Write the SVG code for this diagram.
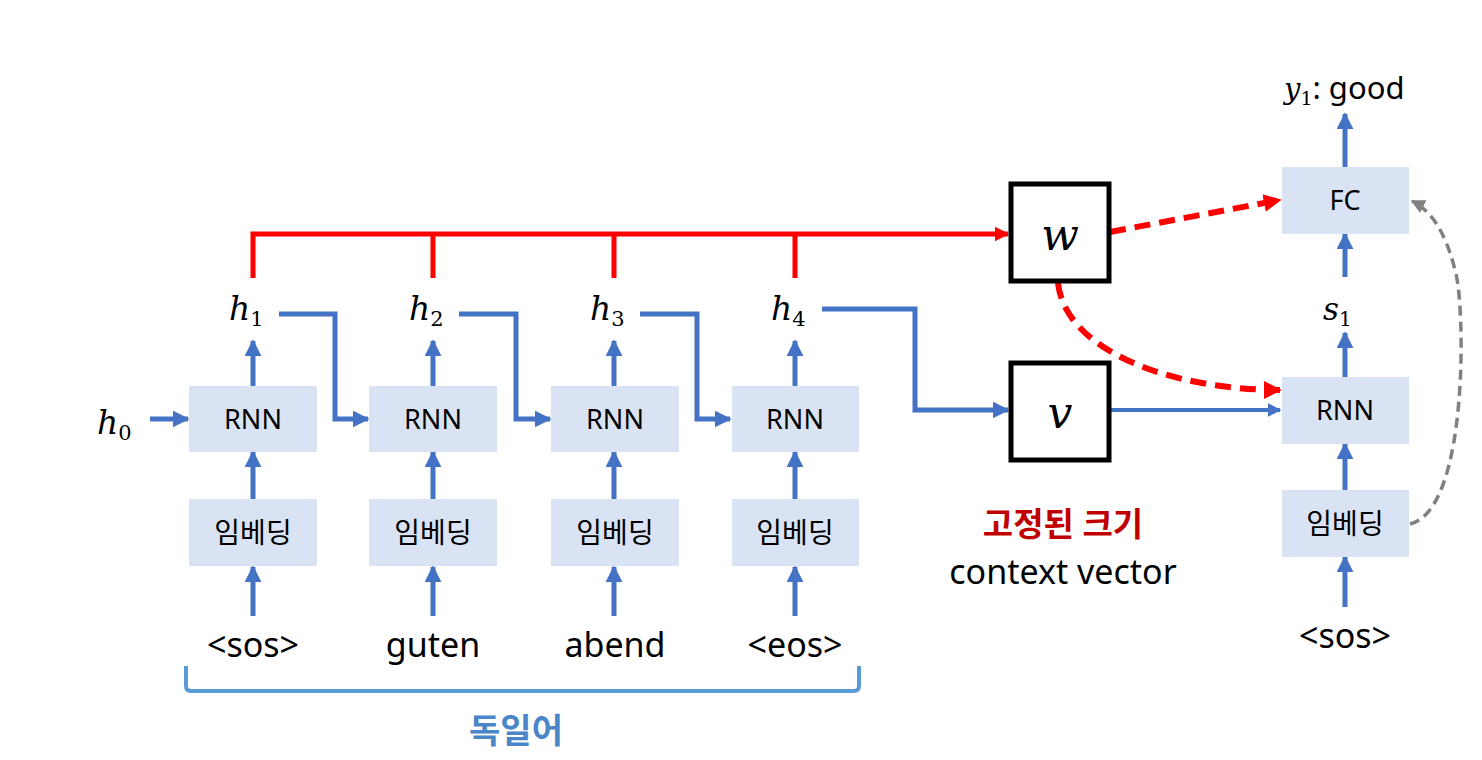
<svg xmlns="http://www.w3.org/2000/svg" width="1482" height="760" viewBox="0 0 1482 760">
<defs>
<style>
.box{fill:#DAE3F3}
.sq{fill:#fff;stroke:#000;stroke-width:5}
.bl{fill:none;stroke:#4472C4;stroke-width:5}
.red{fill:none;stroke:#FF0000;stroke-width:5}
.reddash{fill:none;stroke:#FF0000;stroke-width:6;stroke-dasharray:16 9}
.graydash{fill:none;stroke:#808080;stroke-width:3.5;stroke-dasharray:10 6}
.t{font-family:"Noto Sans","Noto Sans CJK KR",sans-serif;fill:#000;text-anchor:middle}
.m{font-family:"DejaVu Serif","Liberation Serif",serif;font-style:italic;fill:#000}
</style>
<marker id="ab" viewBox="0 0 10 10" refX="9" refY="5" markerWidth="3.4" markerHeight="3.4" orient="auto" markerUnits="strokeWidth"><path d="M0,0 L10,5 L0,10 Z" fill="#4472C4"/></marker>
<marker id="ar" viewBox="0 0 10 10" refX="9" refY="5" markerWidth="3" markerHeight="3" orient="auto" markerUnits="strokeWidth"><path d="M0,0 L10,5 L0,10 Z" fill="#FF0000"/></marker>
<marker id="ag" viewBox="0 0 10 10" refX="9" refY="5" markerWidth="4" markerHeight="4" orient="auto" markerUnits="strokeWidth"><path d="M0,0 L10,5 L0,10 Z" fill="#808080"/></marker>
</defs>

<g id="connectors">
<path class="red" d="M253,278 V234 H1008" marker-end="url(#ar)" style="stroke-dasharray:none"/>
<path class="red" d="M433,278 V234 M614,278 V234 M795,278 V234"/>
<path class="bl" d="M253,616 V567" marker-end="url(#ab)"/>
<path class="bl" d="M433,616 V567" marker-end="url(#ab)"/>
<path class="bl" d="M614,616 V567" marker-end="url(#ab)"/>
<path class="bl" d="M795,616 V567" marker-end="url(#ab)"/>
<path class="bl" d="M253,499 V452" marker-end="url(#ab)"/>
<path class="bl" d="M433,499 V452" marker-end="url(#ab)"/>
<path class="bl" d="M614,499 V452" marker-end="url(#ab)"/>
<path class="bl" d="M795,499 V452" marker-end="url(#ab)"/>
<path class="bl" d="M253,386 V341" marker-end="url(#ab)"/>
<path class="bl" d="M433,386 V341" marker-end="url(#ab)"/>
<path class="bl" d="M614,386 V341" marker-end="url(#ab)"/>
<path class="bl" d="M795,386 V341" marker-end="url(#ab)"/>
<path class="bl" d="M150,419 H188" marker-end="url(#ab)"/>
<path class="bl" d="M279,314 H335 V419 H368" marker-end="url(#ab)"/>
<path class="bl" d="M459,314 H516 V419 H550" marker-end="url(#ab)"/>
<path class="bl" d="M640,314 H697 V419 H730" marker-end="url(#ab)"/>
<path class="bl" d="M822,309 H915 V410 H1008" marker-end="url(#ab)"/>
<path class="bl" d="M1110,410 H1280" marker-end="url(#ab)" style="stroke-width:4"/>
<path class="reddash" d="M1110,232 L1280,200" marker-end="url(#ar)"/>
<path class="reddash" d="M1058,283 C1065,350 1170,390 1280,390" marker-end="url(#ar)"/>
<path class="bl" d="M1345,607 V557" marker-end="url(#ab)"/>
<path class="bl" d="M1345,490 V444" marker-end="url(#ab)"/>
<path class="bl" d="M1345,377 V333" marker-end="url(#ab)"/>
<path class="bl" d="M1345,277 V234" marker-end="url(#ab)"/>
<path class="bl" d="M1345,167 V114" marker-end="url(#ab)"/>
<path class="graydash" d="M1410,524 C1470,510 1465,300 1455,270 C1445,230 1430,210 1412,201" marker-end="url(#ag)"/>
<path d="M186,666 V686 Q186,691 191,691 H854 Q859,691 859,686 V666" fill="none" stroke="#5B9BD5" stroke-width="4"/>
</g>

<g id="enc-rnn1"><rect class="box" x="189" y="386" width="128" height="66"/><text class="t" x="253" y="429" font-size="27">RNN</text></g>
<g id="enc-rnn2"><rect class="box" x="369" y="386" width="128" height="66"/><text class="t" x="433" y="429" font-size="27">RNN</text></g>
<g id="enc-rnn3"><rect class="box" x="551" y="386" width="128" height="66"/><text class="t" x="615" y="429" font-size="27">RNN</text></g>
<g id="enc-rnn4"><rect class="box" x="732" y="386" width="127" height="66"/><text class="t" x="795" y="429" font-size="27">RNN</text></g>

<g id="enc-emb1"><rect class="box" x="189" y="499" width="128" height="67"/><text class="t" x="253" y="543" font-size="28">임베딩</text></g>
<g id="enc-emb2"><rect class="box" x="369" y="499" width="128" height="67"/><text class="t" x="433" y="543" font-size="28">임베딩</text></g>
<g id="enc-emb3"><rect class="box" x="551" y="499" width="128" height="67"/><text class="t" x="615" y="543" font-size="28">임베딩</text></g>
<g id="enc-emb4"><rect class="box" x="732" y="499" width="127" height="67"/><text class="t" x="795" y="543" font-size="28">임베딩</text></g>

<g id="inputs">
<text class="t" x="253" y="657" font-size="34">&lt;sos&gt;</text>
<text class="t" x="433" y="657" font-size="34">guten</text>
<text class="t" x="615" y="657" font-size="34">abend</text>
<text class="t" x="795" y="657" font-size="34">&lt;eos&gt;</text>
</g>

<g id="hidden">
<text class="m" x="97" y="434" font-size="33">h<tspan font-style="normal" font-size="21" dy="6">0</tspan></text>
<text class="m" x="229" y="320" font-size="33">h<tspan font-style="normal" font-size="21" dy="6">1</tspan></text>
<text class="m" x="409" y="320" font-size="33">h<tspan font-style="normal" font-size="21" dy="6">2</tspan></text>
<text class="m" x="590" y="320" font-size="33">h<tspan font-style="normal" font-size="21" dy="6">3</tspan></text>
<text class="m" x="771" y="320" font-size="33">h<tspan font-style="normal" font-size="21" dy="6">4</tspan></text>
</g>

<g id="w-node"><rect class="sq" x="1011" y="184" width="98" height="97"/><text class="m" x="1060" y="250" font-size="44" text-anchor="middle">w</text></g>
<g id="v-node"><rect class="sq" x="1011" y="363" width="98" height="97"/><text class="m" x="1060" y="428" font-size="44" text-anchor="middle">v</text></g>

<g id="context-label">
<text class="t" x="1063" y="536" font-size="33" font-weight="bold" style="fill:#C00000">고정된 크기</text>
<text class="t" x="1063" y="584" font-size="34">context vector</text>
</g>

<g id="dec-fc"><rect class="box" x="1282" y="167" width="127" height="67"/><text class="t" x="1345" y="210" font-size="27">FC</text></g>
<g id="dec-rnn"><rect class="box" x="1282" y="377" width="127" height="67"/><text class="t" x="1345" y="420" font-size="27">RNN</text></g>
<g id="dec-emb"><rect class="box" x="1282" y="490" width="127" height="67"/><text class="t" x="1345" y="534" font-size="28">임베딩</text></g>
<g id="dec-labels">
<text class="t" x="1345" y="648" font-size="34">&lt;sos&gt;</text>
<text class="m" x="1323" y="320" font-size="31">s<tspan font-style="normal" font-size="20" dy="6">1</tspan></text>
<text class="m" x="1284" y="99" font-size="29">y<tspan font-style="normal" font-size="19" dy="6">1</tspan><tspan font-family="Noto Sans, sans-serif" font-style="normal" font-size="31" dy="-6">: good</tspan></text>
</g>

<g id="bracket-label"><text class="t" x="516" y="743" font-size="34" font-weight="bold" style="fill:#4A86C8">독일어</text></g>
</svg>
